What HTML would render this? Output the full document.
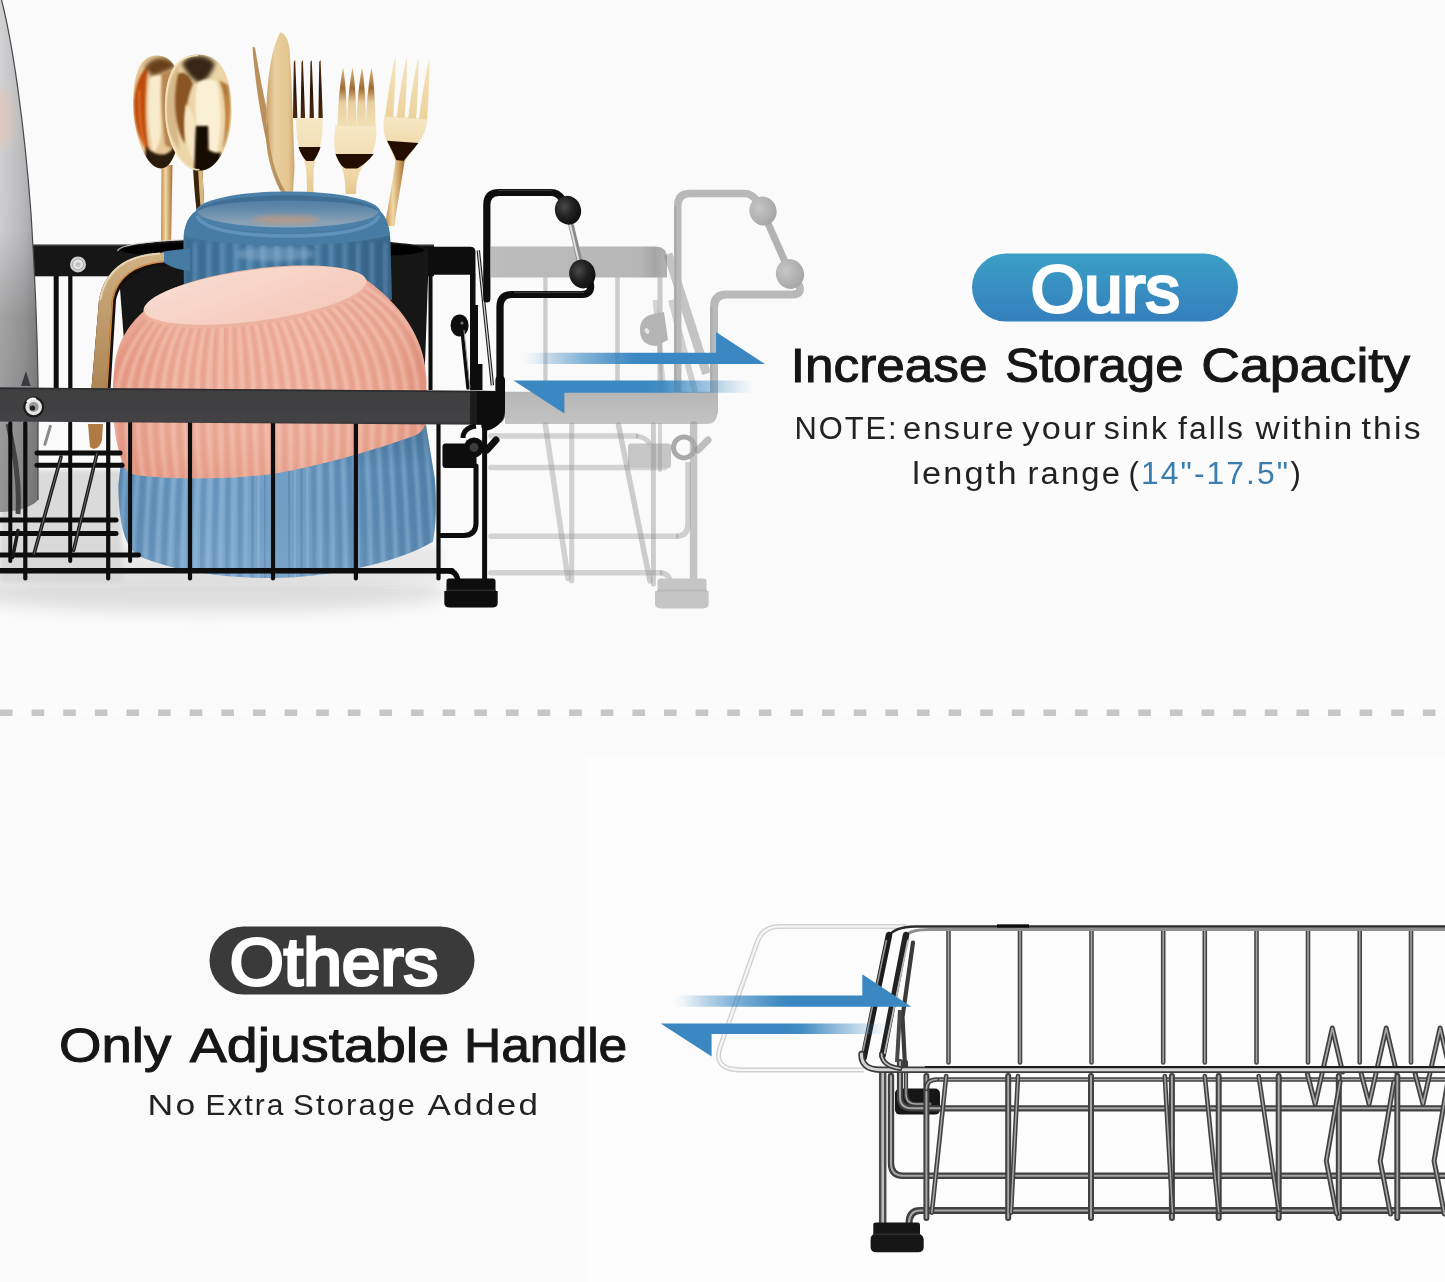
<!DOCTYPE html>
<html><head><meta charset="utf-8"><title>Ours vs Others</title>
<style>
html,body{margin:0;padding:0;background:#fcfcfc;}
body{width:1445px;height:1282px;overflow:hidden;font-family:"Liberation Sans",sans-serif;}
svg{display:block;}
text{font-family:"Liberation Sans",sans-serif;}
</style></head><body>
<svg width="1445" height="1282" viewBox="0 0 1445 1282">
<!-- defs -->
<defs>
<linearGradient id="pillBlue" x1="0" y1="0" x2="0" y2="1"><stop offset="0" stop-color="#3b9fc5"/><stop offset="1" stop-color="#347fbd"/></linearGradient>
<linearGradient id="arrR" x1="0" y1="0" x2="1" y2="0"><stop offset="0" stop-color="#3a87c1" stop-opacity="0"/><stop offset="0.05" stop-color="#3a87c1" stop-opacity="0.08"/><stop offset="0.12" stop-color="#3a87c1" stop-opacity="0.3"/><stop offset="0.25" stop-color="#3a87c1" stop-opacity="0.62"/><stop offset="0.44" stop-color="#3a87c1" stop-opacity="0.96"/><stop offset="0.5" stop-color="#3a87c1" stop-opacity="1"/></linearGradient>
<linearGradient id="arrL" x1="1" y1="0" x2="0" y2="0"><stop offset="0" stop-color="#3a87c1" stop-opacity="0"/><stop offset="0.064" stop-color="#3a87c1" stop-opacity="0.12"/><stop offset="0.19" stop-color="#3a87c1" stop-opacity="0.45"/><stop offset="0.38" stop-color="#3a87c1" stop-opacity="0.95"/><stop offset="0.45" stop-color="#3a87c1" stop-opacity="1"/></linearGradient>
<filter id="b2" x="-20%" y="-20%" width="140%" height="140%"><feGaussianBlur stdDeviation="2"/></filter>
<filter id="b1" x="-20%" y="-20%" width="140%" height="140%"><feGaussianBlur stdDeviation="1"/></filter>
<filter id="b05" x="-10%" y="-10%" width="120%" height="120%"><feGaussianBlur stdDeviation="0.5"/></filter>
<filter id="b4" x="-30%" y="-30%" width="160%" height="160%"><feGaussianBlur stdDeviation="4"/></filter>
<filter id="b8" x="-30%" y="-60%" width="160%" height="220%"><feGaussianBlur stdDeviation="8"/></filter>
<filter id="softAll" x="0" y="0" width="1445" height="1282" filterUnits="userSpaceOnUse"><feGaussianBlur stdDeviation="0.35"/></filter>
</defs>

<!-- bg -->
<rect x="0" y="0" width="1445" height="1282" fill="#fbfbfb"/>
<rect x="0" y="0" width="904" height="706" fill="#fafafa"/>
<rect x="0" y="716" width="1445" height="566" fill="#fafafa"/>
<rect x="587" y="757" width="858" height="525" fill="#fcfcfc"/>
<line x1="0" y1="712.7" x2="1445" y2="712.7" stroke="#c6c6c6" stroke-width="6.4" stroke-dasharray="12.6 19.02"/>

<!-- ghost -->
<g filter="url(#softAll)">
<defs><linearGradient id="gRail" x1="0" y1="0" x2="1" y2="0"><stop offset="0" stop-color="#bcbcbc"/><stop offset="0.85" stop-color="#b6b6b6"/><stop offset="0.93" stop-color="#a6a6a6"/><stop offset="1" stop-color="#b2b2b2"/></linearGradient><linearGradient id="gBar" x1="0" y1="0" x2="0" y2="1"><stop offset="0" stop-color="#b6b6b6"/><stop offset="1" stop-color="#c3c3c3"/></linearGradient><radialGradient id="gBall" cx="0.4" cy="0.35" r="0.7"><stop offset="0" stop-color="#c6c6c6"/><stop offset="1" stop-color="#a4a4a4"/></radialGradient></defs>
<g>
<line x1="545.4" y1="277" x2="545.4" y2="392" stroke="#8e8e8e" stroke-width="4.2" stroke-linecap="round" opacity="0.42"/>
<line x1="617.5" y1="277" x2="617.5" y2="392" stroke="#8e8e8e" stroke-width="4.6" stroke-linecap="round" opacity="0.42"/>
<line x1="660" y1="277" x2="660" y2="392" stroke="#8e8e8e" stroke-width="5" stroke-linecap="round" opacity="0.45"/>
<path d="M491,246.400 H655 Q667,246.400 667,258 V277.600 H491 Z" fill="url(#gRail)"/>
<line x1="668" y1="254" x2="706.6" y2="373.6" stroke="#8e8e8e" stroke-width="9" stroke-linecap="butt" opacity="0.5"/>
<line x1="671" y1="300" x2="695" y2="392" stroke="#8e8e8e" stroke-width="6" stroke-linecap="butt" opacity="0.4"/>
<line x1="655" y1="300" x2="664" y2="392" stroke="#8e8e8e" stroke-width="5" stroke-linecap="butt" opacity="0.35"/>
<path d="M640,330 Q640,316 654,314 L664,312 L668,340 L656,346 Q640,345 640,330 Z" fill="#b4b4b4"/>
<ellipse cx="647" cy="331" rx="2" ry="3" fill="#e8e8e8" transform="rotate(-30 647 331)"/>
<path d="M677.700,392 L677.700,206 Q677.700,193.400 690,193.400 L744,193.400 Q752,193.400 757,201" fill="none" stroke="#b9b9b9" stroke-width="7.500" stroke-linecap="round"/>
<path d="M675.500,392 L675.500,206" fill="none" stroke="#a9a9a9" stroke-width="2"/>
<line x1="763" y1="212" x2="790" y2="273" stroke="#b2b2b2" stroke-width="7" stroke-linecap="butt" opacity="1"/>
<path d="M798,283 Q804,294.500 792,294.500 L727,294.500 Q714,294.500 714,307 L714,412" fill="none" stroke="#b9b9b9" stroke-width="8" stroke-linecap="round"/>
<path d="M711.500,307 L711.500,392" fill="none" stroke="#ababab" stroke-width="2"/>
<ellipse cx="763" cy="211" rx="13.500" ry="14.500" fill="url(#gBall)" transform="rotate(-20 763 211)"/>
<ellipse cx="790" cy="274" rx="14" ry="15" fill="url(#gBall)" transform="rotate(-20 790 274)"/>
<path d="M505,391.800 H717 V414 Q717,424 706,424 H505 Z" fill="url(#gBar)"/>
<line x1="491" y1="436" x2="636" y2="436" stroke="#8e8e8e" stroke-width="5.5" stroke-linecap="round" opacity="0.36"/>
<line x1="491" y1="467.5" x2="665" y2="467.5" stroke="#8e8e8e" stroke-width="5.5" stroke-linecap="round" opacity="0.36"/>
<line x1="491" y1="536.3" x2="676" y2="536.3" stroke="#8e8e8e" stroke-width="5.5" stroke-linecap="round" opacity="0.36"/>
<line x1="491" y1="572.8" x2="660" y2="572.8" stroke="#8e8e8e" stroke-width="5.5" stroke-linecap="round" opacity="0.36"/>
<path d="M676,536.300 Q688,536.300 688,524 L688,462" fill="none" stroke="#8e8e8e" stroke-width="5.500" opacity="0.4"/>
<path d="M660,572.800 Q668,573 670,580" fill="none" stroke="#8e8e8e" stroke-width="5.500" opacity="0.4"/>
<rect x="628" y="443.600" width="43" height="24.500" rx="3" fill="#c6c6c6"/>
<path d="M636,436 Q646,437 650,444" fill="none" stroke="#8e8e8e" stroke-width="5" opacity="0.4"/>
<line x1="571.7" y1="425" x2="571.7" y2="581" stroke="#8e8e8e" stroke-width="5" stroke-linecap="round" opacity="0.38"/>
<line x1="545.4" y1="425" x2="568" y2="578.5" stroke="#8e8e8e" stroke-width="5.5" stroke-linecap="round" opacity="0.38"/>
<line x1="618.5" y1="425" x2="650" y2="581" stroke="#8e8e8e" stroke-width="5.5" stroke-linecap="round" opacity="0.42"/>
<line x1="653.4" y1="425" x2="653.4" y2="584" stroke="#8e8e8e" stroke-width="5" stroke-linecap="round" opacity="0.42"/>
<line x1="660" y1="425" x2="660" y2="470" stroke="#8e8e8e" stroke-width="4" stroke-linecap="round" opacity="0.35"/>
<line x1="693.6" y1="425" x2="693.6" y2="580" stroke="#8e8e8e" stroke-width="7.5" stroke-linecap="round" opacity="0.5"/>
<circle cx="684" cy="447.400" r="10.500" fill="none" stroke="#a9a9a9" stroke-width="5"/>
<line x1="698" y1="450" x2="708" y2="440" stroke="#8e8e8e" stroke-width="7" stroke-linecap="round" opacity="0.55"/>
<path d="M660,578.500 H704 Q706.500,578.500 706.500,581 V591 H708.600 V604 Q708.600,608.400 703,608.400 H661 Q655,608.400 655,604 V591 H657.500 V581 Q657.500,578.500 660,578.500 Z" fill="#c5c5c5"/>
<rect x="657.500" y="589.500" width="49" height="2" fill="#b8b8b8"/>
</g>
</g>
<!-- blackrack -->
<g filter="url(#softAll)">
<defs>
<linearGradient id="plateG" x1="0" y1="0" x2="1" y2="0"><stop offset="0" stop-color="#d2d2d4"/><stop offset="0.6" stop-color="#bcbcbe"/><stop offset="1" stop-color="#a0a0a2"/></linearGradient>
<linearGradient id="plateG2" x1="0" y1="0" x2="0" y2="1"><stop offset="0" stop-color="#000" stop-opacity="0"/><stop offset="0.45" stop-color="#000" stop-opacity="0.02"/><stop offset="0.62" stop-color="#000" stop-opacity="0.22"/><stop offset="1" stop-color="#000" stop-opacity="0.30"/></linearGradient>
<linearGradient id="gold1" x1="0" y1="0" x2="1" y2="0"><stop offset="0" stop-color="#b5773a"/><stop offset="0.25" stop-color="#f3dcae"/><stop offset="0.5" stop-color="#e9c88f"/><stop offset="0.8" stop-color="#f2d9a8"/><stop offset="1" stop-color="#b98545"/></linearGradient>
<linearGradient id="goldH" x1="0" y1="0" x2="1" y2="0"><stop offset="0" stop-color="#e0c08a"/><stop offset="0.4" stop-color="#cfa468"/><stop offset="0.55" stop-color="#8a5a28"/><stop offset="0.75" stop-color="#6a4018"/><stop offset="0.9" stop-color="#c89858"/><stop offset="1" stop-color="#8a6030"/></linearGradient>
<linearGradient id="goldHv" x1="0" y1="250" x2="0" y2="390" gradientUnits="userSpaceOnUse"><stop offset="0" stop-color="#d2b488"/><stop offset="0.35" stop-color="#c4a070"/><stop offset="1" stop-color="#ae8656"/></linearGradient>
<linearGradient id="goldStem" x1="0" y1="0" x2="1" y2="0"><stop offset="0" stop-color="#c08a48"/><stop offset="0.4" stop-color="#f1d8a6"/><stop offset="1" stop-color="#a8702f"/></linearGradient>
<linearGradient id="forkBody" x1="0" y1="0" x2="0" y2="1"><stop offset="0" stop-color="#f6e8c6"/><stop offset="0.7" stop-color="#efd8a8"/><stop offset="1" stop-color="#e6c68e"/></linearGradient>
<linearGradient id="tineDark" x1="0" y1="0" x2="0" y2="1"><stop offset="0" stop-color="#5a3410"/><stop offset="0.5" stop-color="#2a1606"/><stop offset="1" stop-color="#4a2a0c"/></linearGradient>
<linearGradient id="tineLight" x1="0" y1="0" x2="0" y2="1"><stop offset="0" stop-color="#d9b98a"/><stop offset="0.35" stop-color="#a06a30"/><stop offset="0.6" stop-color="#e8cf9e"/><stop offset="1" stop-color="#f2dfb4"/></linearGradient>
<linearGradient id="tineLight3" x1="0" y1="0" x2="0" y2="1"><stop offset="0" stop-color="#f3e4c0"/><stop offset="1" stop-color="#ecd29c"/></linearGradient>
<linearGradient id="knifeG" x1="0" y1="0" x2="1" y2="0"><stop offset="0" stop-color="#c9a067"/><stop offset="0.3" stop-color="#e9cf9f"/><stop offset="0.8" stop-color="#e4c48e"/><stop offset="1" stop-color="#caa46c"/></linearGradient>
<radialGradient id="spoon1" cx="0.5" cy="0.45" r="0.62"><stop offset="0" stop-color="#f6e4ba"/><stop offset="0.6" stop-color="#deb070"/><stop offset="1" stop-color="#b06a2a"/></radialGradient>
<radialGradient id="spoon2" cx="0.5" cy="0.45" r="0.65"><stop offset="0" stop-color="#f8e8c2"/><stop offset="0.6" stop-color="#e8c88e"/><stop offset="0.92" stop-color="#c89858"/><stop offset="1" stop-color="#a87838"/></radialGradient>
<linearGradient id="mugG" x1="0" y1="0" x2="1" y2="0"><stop offset="0" stop-color="#41729a"/><stop offset="0.3" stop-color="#4e83ac"/><stop offset="0.7" stop-color="#46799f"/><stop offset="1" stop-color="#39668a"/></linearGradient>
<linearGradient id="mugIn" x1="0" y1="0" x2="0" y2="1"><stop offset="0" stop-color="#4a7aa2"/><stop offset="0.4" stop-color="#5f88aa"/><stop offset="0.8" stop-color="#869fb3"/><stop offset="1" stop-color="#8fa6b8"/></linearGradient>
<linearGradient id="pinkG" x1="0" y1="0" x2="1" y2="0"><stop offset="0" stop-color="#e79d89"/><stop offset="0.2" stop-color="#eeae9b"/><stop offset="0.6" stop-color="#f0b2a0"/><stop offset="0.9" stop-color="#eaa692"/><stop offset="1" stop-color="#e09580"/></linearGradient>
<linearGradient id="pinkV" x1="0" y1="0" x2="0" y2="1"><stop offset="0" stop-color="#fff" stop-opacity="0.10"/><stop offset="0.5" stop-color="#fff" stop-opacity="0"/><stop offset="1" stop-color="#c86a50" stop-opacity="0.18"/></linearGradient>
<linearGradient id="footRing" x1="0" y1="0" x2="1" y2="1"><stop offset="0" stop-color="#f9ddd2"/><stop offset="1" stop-color="#f4c8b8"/></linearGradient>
<linearGradient id="blueG" x1="0" y1="0" x2="1" y2="0"><stop offset="0" stop-color="#5d8db5"/><stop offset="0.25" stop-color="#78a6cb"/><stop offset="0.6" stop-color="#6f9dc3"/><stop offset="1" stop-color="#5585ae"/></linearGradient>
<linearGradient id="blueV" x1="0" y1="0" x2="0" y2="1"><stop offset="0" stop-color="#2a4f70" stop-opacity="0.35"/><stop offset="0.3" stop-color="#2a4f70" stop-opacity="0"/><stop offset="1" stop-color="#fff" stop-opacity="0.08"/></linearGradient>
<linearGradient id="barG" x1="0" y1="0" x2="0" y2="1"><stop offset="0" stop-color="#3e3e40"/><stop offset="0.9" stop-color="#434345"/><stop offset="1" stop-color="#303032"/></linearGradient>
<radialGradient id="ballG" cx="0.4" cy="0.35" r="0.7"><stop offset="0" stop-color="#4a4a4a"/><stop offset="0.5" stop-color="#222"/><stop offset="1" stop-color="#0c0c0c"/></radialGradient>
<radialGradient id="shadowG" cx="0.5" cy="0.5" r="0.5"><stop offset="0" stop-color="#000" stop-opacity="0.22"/><stop offset="1" stop-color="#000" stop-opacity="0"/></radialGradient>
<clipPath id="sp1c"><path d="M157,55.500 C138,55.500 133,78 133.200,106 C133.500,135 146,168.500 161,168.500 C175,168.500 182,135 182,106 C182,78 176,55.500 157,55.500 Z"/></clipPath>
<clipPath id="sp2c"><path d="M198,54.500 C172,54.500 164.500,80 164.900,111 C165.300,143 181,170.800 199.500,170.800 C218,170.800 231.800,143 231.600,111 C231.400,80 224,54.500 198,54.500 Z"/></clipPath>
<clipPath id="pinkClip"><path id="pinkPath" d="M143,312 C128,325 116,345 114.500,368 C111,398 112.500,436 123,464 C125.500,471 129,474.500 140,475.500 C180,480 235,479 271.600,474 C310,468 370,452 416,435 C424,431 426.500,425 426.500,415 L426.500,380 C425,345 410,312 366.500,280 Z"/></clipPath>
<clipPath id="blueClip"><path d="M121,462 L118.400,485 C118.500,520 124,545 137,555 C170,571 225,578 271.600,578 C330,578 400,562 433,541.600 C437,520 436,495 434.800,479 L426,425 Z"/></clipPath>
<clipPath id="mugClip"><path d="M196,211 C186,218 183.400,230 183.400,244 L184,300 L392,300 L390.500,244 C390,228 387,218 380,211 C360,236 220,238 196,211 Z"/></clipPath>
</defs>
<ellipse cx="205" cy="592" rx="245" ry="20" fill="#000" opacity="0.11" filter="url(#b8)"/>
<rect x="0" y="470" width="122" height="112" fill="#cfcfcf" opacity="0.75" filter="url(#b2)"/>
<rect x="0" y="545" width="440" height="36" fill="#d6d6d6" opacity="0.5" filter="url(#b4)"/>
<rect x="33" y="244.700" width="401" height="31.600" fill="#151515"/>
<rect x="33" y="244.700" width="401" height="1.500" fill="#3a3a3a"/>
<path d="M425,246.800 H470 Q475.500,246.800 475.500,252 V274.800 H425 Z" fill="#0e0e0e"/>
<rect x="53.700" y="276" width="5" height="112" fill="#0c0c0c"/>
<rect x="68.200" y="276" width="4.200" height="112" fill="#0c0c0c"/>
<circle cx="78" cy="264.400" r="8" fill="#cfcfcf"/><circle cx="78" cy="264.400" r="5.500" fill="#e4e4e4" stroke="#a8a8a8" stroke-width="1"/><circle cx="78" cy="264.400" r="2.500" fill="#c4c4c4"/>
<rect x="428.500" y="274" width="4" height="116" fill="#0c0c0c"/>
<rect x="470" y="274" width="5.500" height="116" fill="#0c0c0c"/>
<path d="M161.500,165 L161,246 L171,246 L172.500,165 Z" fill="url(#goldStem)"/>
<path d="M157,55.500 C138,55.500 133,78 133.200,106 C133.500,135 146,168.500 161,168.500 C175,168.500 182,135 182,106 C182,78 176,55.500 157,55.500 Z" fill="#e6c898"/>
<g clip-path="url(#sp1c)">
<path d="M134,106 C134,88 140,72 148,66 C145,90 144,125 149,152 C140,142 134,125 134,106 Z" fill="#c04c0e" filter="url(#b1)"/>
<path d="M139,90 C139,110 140,130 145,146" fill="none" stroke="#e87a2c" stroke-width="2.500" opacity="0.7" filter="url(#b1)"/>
<path d="M145,68 C150,56 168,54 176,66 C170,70 160,74 152,76 Z" fill="#5a3010" opacity="0.9" filter="url(#b2)"/>
<path d="M150,78 C147,100 148,130 153,152 C158,150 161,140 161,128 C160,110 160,92 161,76 C157,75 153,76 150,78 Z" fill="#f8eacc" filter="url(#b1)"/>
<path d="M162,74 C161,95 162,120 165,145 L174,150 C180,125 180,95 174,70 Z" fill="#a8703a" opacity="0.75" filter="url(#b1)"/>
<path d="M146,146 C150,152 158,156 166,154 C170,152 174,148 176,144 L178,170 L144,170 Z" fill="#1e0c02" opacity="0.92" filter="url(#b1)"/>
</g>
<path d="M193,166 C194,190 197,215 199,232 L206,232 C205,215 203,190 202.500,166 Z" fill="#3a2008"/>
<path d="M198,166 C199,190 201,215 203,232 L206,232 C205,215 203,190 202.500,166 Z" fill="#d8b880"/>
<path d="M198,54.500 C172,54.500 164.500,80 164.900,111 C165.300,143 181,170.800 199.500,170.800 C218,170.800 231.800,143 231.600,111 C231.400,80 224,54.500 198,54.500 Z" fill="#ecd6a8"/>
<g clip-path="url(#sp2c)">
<path d="M166,111 C166,90 172,72 180,64 C176,85 175,120 180,150 C171,140 166,128 166,111 Z" fill="#d8b888" filter="url(#b1)"/>
<path d="M178,74 C173,98 174,126 185,144 C184,122 186,100 193,84 C190,76 184,70 178,74 Z" fill="#8a5424" filter="url(#b1)"/>
<path d="M182,64 C188,53 208,53 215,64 C212,73 206,81 200,83 C193,81 187,73 182,64 Z" fill="#382818" filter="url(#b2)"/>
<path d="M197,83 C195,100 195,115 197,126 L209,126 L209,150 L217,152 C221,135 222,105 217,82 C211,78 202,79 197,83 Z" fill="#faf0d6" filter="url(#b1)"/>
<path d="M186,104 C182,125 186,150 195,164 L196,128 C194,118 192,110 186,104 Z" fill="#f6e6c4" filter="url(#b1)"/>
<path d="M196,126 L208,126 L208.500,150 C214,153 218,154 221,152 L218,172 L194,172 C195,160 195,140 196,126 Z" fill="#160a02" filter="url(#b1)"/>
<path d="M219,80 C226,95 228,125 222,150 C230,135 232,105 228,85 Z" fill="#b07a3c" filter="url(#b1)"/>
<path d="M226,96 C229,108 229,120 227,130" fill="none" stroke="#d88a3a" stroke-width="2.500" opacity="0.8" filter="url(#b1)"/>
</g>
<path d="M198,55.500 C172.500,55.500 165.500,80 165.900,111 C166.300,142 181.500,169.800 199.500,169.800" fill="none" stroke="#f4e4c0" stroke-width="1.600" opacity="0.9"/>
<path d="M252.500,47 L255,47.500 C262,90 272,140 288,190 L280,190 C266,150 256,95 252.500,47 Z" fill="#b98f5c"/>
<path d="M280,32.500 C286,33 289.500,42 290,55 C292,90 293.500,130 294.500,168 L293,192 L284,192 C272,170 266,150 266,132 C266,100 268,55 280,32.500 Z" fill="url(#knifeG)"/>
<path d="M268,120 C268,150 275,175 286,192 L281,192 C270,172 265.500,150 266,130 Z" fill="#b08850" opacity="0.8"/>
<path d="M296,118 L322.500,118 C323,130 322,146 316,158 C314,162 313.500,170 313.500,192 L307,192 C307,172 306,164 303,158 C297,146 296,130 296,118 Z" fill="url(#forkBody)"/>
<path d="M298.500,147 L320.500,147 C319,152 316,158 313.500,161 L306.500,161 C303,158 300,152 298.500,147 Z" fill="#241004"/>
<path d="M293.0,118 L293.8,62 L295.2,60 L297.4,118 Z" fill="url(#tineDark)"/>
<path d="M300.7,118 L301.5,62 L302.9,60 L305.1,118 Z" fill="url(#tineDark)"/>
<path d="M309.6,118 L310.4,62 L311.8,60 L314.0,118 Z" fill="url(#tineDark)"/>
<path d="M318.4,118 L319.2,62 L320.6,60 L322.8,118 Z" fill="url(#tineDark)"/>
<path d="M335.500,125 L376,125 C377.500,138 375,150 368,160 C360,169 356,176 356,194 L345.500,194 C345.500,176 343,169 338,160 C333,150 334,138 335.500,125 Z" fill="url(#forkBody)"/>
<path d="M335.500,154 L373.500,154 C369,160.500 362,166 357,168.500 L345.500,168.500 C341,166 338,161 335.500,154 Z" fill="#241004"/>
<path d="M337.5,126 C338.0,100 340.5,80 343.0,67.500 C345.5,80 346.5,100 347.0,126 Z" fill="url(#tineLight)"/>
<path d="M347.0,126 C347.5,100 350.0,80 352.5,67.500 C355.0,80 356.0,100 356.5,126 Z" fill="url(#tineLight)"/>
<path d="M356.5,126 C357.0,100 359.5,80 362.0,67.500 C364.5,80 365.5,100 366.0,126 Z" fill="url(#tineLight)"/>
<path d="M366.0,126 C366.5,100 369.0,80 371.5,67.500 C374.0,80 375.0,100 375.5,126 Z" fill="url(#tineLight)"/>
<g transform="rotate(4 405 120)">
<path d="M384,117 L427,117 C427.500,126 425,134 420,142 C413,152 409,158 407,164 L399,164 C397,158 393,150 388,142 C384,134 383.500,126 384,117 Z" fill="url(#forkBody)"/>
<path d="M388.500,142 L420,142 C414,151 409,157 406.500,161.500 L399.500,161.500 C397,156 393,150 388.500,142 Z" fill="#241004"/>
<path d="M385.0,118 C386.0,95 388.0,75 391.0,57 C392.5,75 393.0,95 393.0,118 Z" fill="url(#tineLight3)"/>
<path d="M396.5,118 C397.5,95 399.5,75 402.5,57 C404.0,75 404.5,95 404.5,118 Z" fill="url(#tineLight3)"/>
<path d="M408.0,118 C409.0,95 411.0,75 414.0,57 C415.5,75 416.0,95 416.0,118 Z" fill="url(#tineLight3)"/>
<path d="M419.0,118 C420.0,95 422.0,75 425.0,57 C426.5,75 427.0,95 427.0,118 Z" fill="url(#tineLight3)"/>
</g>
<path d="M395.500,160 L404.500,161 C402,180 397,205 394.500,226 L385,226 C388,205 393,180 395.500,160 Z" fill="url(#goldStem)"/>
<path d="M117,250 C117,243 190,238 273,238 C356,238 429,243 429,250 L424,392 L128,392 Z" fill="#121212"/>
<path d="M117.500,251 C119,245 150,240.500 190,239.500" fill="none" stroke="#d8d8d8" stroke-width="1.200" opacity="0.85"/>
<ellipse cx="273" cy="250" rx="152" ry="9.500" fill="#050505"/>
<g>
<path d="M196,211 C186,218 183.400,230 183.400,244 L184,300 L392,300 L390.500,244 C390,228 387,218 380,211 Z" fill="url(#mugG)"/>
<g clip-path="url(#mugClip)">
<rect x="186.0" y="240" width="5.500" height="70" fill="#2a5374" opacity="0.30" filter="url(#b1)"/>
<rect x="193.0" y="243" width="4" height="66" fill="#7aa6ca" opacity="0.30" filter="url(#b1)"/>
<rect x="199.6" y="240" width="5.500" height="70" fill="#2a5374" opacity="0.30" filter="url(#b1)"/>
<rect x="206.6" y="243" width="4" height="66" fill="#7aa6ca" opacity="0.30" filter="url(#b1)"/>
<rect x="213.2" y="240" width="5.500" height="70" fill="#2a5374" opacity="0.30" filter="url(#b1)"/>
<rect x="220.2" y="243" width="4" height="66" fill="#7aa6ca" opacity="0.30" filter="url(#b1)"/>
<rect x="226.8" y="240" width="5.500" height="70" fill="#2a5374" opacity="0.30" filter="url(#b1)"/>
<rect x="233.8" y="243" width="4" height="66" fill="#7aa6ca" opacity="0.30" filter="url(#b1)"/>
<rect x="240.4" y="240" width="5.500" height="70" fill="#2a5374" opacity="0.30" filter="url(#b1)"/>
<rect x="247.4" y="243" width="4" height="66" fill="#7aa6ca" opacity="0.30" filter="url(#b1)"/>
<rect x="254.0" y="240" width="5.500" height="70" fill="#2a5374" opacity="0.30" filter="url(#b1)"/>
<rect x="261.0" y="243" width="4" height="66" fill="#7aa6ca" opacity="0.30" filter="url(#b1)"/>
<rect x="267.6" y="240" width="5.500" height="70" fill="#2a5374" opacity="0.30" filter="url(#b1)"/>
<rect x="274.6" y="243" width="4" height="66" fill="#7aa6ca" opacity="0.30" filter="url(#b1)"/>
<rect x="281.2" y="240" width="5.500" height="70" fill="#2a5374" opacity="0.30" filter="url(#b1)"/>
<rect x="288.2" y="243" width="4" height="66" fill="#7aa6ca" opacity="0.30" filter="url(#b1)"/>
<rect x="294.8" y="240" width="5.500" height="70" fill="#2a5374" opacity="0.30" filter="url(#b1)"/>
<rect x="301.8" y="243" width="4" height="66" fill="#7aa6ca" opacity="0.30" filter="url(#b1)"/>
<rect x="308.4" y="240" width="5.500" height="70" fill="#2a5374" opacity="0.30" filter="url(#b1)"/>
<rect x="315.4" y="243" width="4" height="66" fill="#7aa6ca" opacity="0.30" filter="url(#b1)"/>
<rect x="322.0" y="240" width="5.500" height="70" fill="#2a5374" opacity="0.30" filter="url(#b1)"/>
<rect x="329.0" y="243" width="4" height="66" fill="#7aa6ca" opacity="0.30" filter="url(#b1)"/>
<rect x="335.6" y="240" width="5.500" height="70" fill="#2a5374" opacity="0.30" filter="url(#b1)"/>
<rect x="342.6" y="243" width="4" height="66" fill="#7aa6ca" opacity="0.30" filter="url(#b1)"/>
<rect x="349.2" y="240" width="5.500" height="70" fill="#2a5374" opacity="0.30" filter="url(#b1)"/>
<rect x="356.2" y="243" width="4" height="66" fill="#7aa6ca" opacity="0.30" filter="url(#b1)"/>
<rect x="362.8" y="240" width="5.500" height="70" fill="#2a5374" opacity="0.30" filter="url(#b1)"/>
<rect x="369.8" y="243" width="4" height="66" fill="#7aa6ca" opacity="0.30" filter="url(#b1)"/>
<rect x="376.4" y="240" width="5.500" height="70" fill="#2a5374" opacity="0.30" filter="url(#b1)"/>
<rect x="383.4" y="243" width="4" height="66" fill="#7aa6ca" opacity="0.30" filter="url(#b1)"/>
<rect x="390.0" y="240" width="5.500" height="70" fill="#2a5374" opacity="0.30" filter="url(#b1)"/>
<rect x="397.0" y="243" width="4" height="66" fill="#7aa6ca" opacity="0.30" filter="url(#b1)"/>
<ellipse cx="275" cy="254" rx="40" ry="7" fill="#a9c6de" opacity="0.35" filter="url(#b2)"/>
<path d="M183,205 L392,205 L392,235 C340,248 240,250 183,236 Z" fill="#477ca4" opacity="0.96"/>
</g>
<ellipse cx="288" cy="212" rx="92.400" ry="20.600" fill="#4b80a9"/>
<path d="M197,216 C203,230 242,236 288,236 C334,236 373,230 379,216" fill="none" stroke="#6a9dc5" stroke-width="3.500" opacity="0.7" filter="url(#b05)"/>
<ellipse cx="288" cy="211.500" rx="90.200" ry="16" fill="url(#mugIn)"/>
<path d="M197.800,211.500 C197.800,202.700 238,195.500 288,195.500 C338,195.500 378.200,202.700 378.200,211.500 C372,205 336,200.500 288,200.500 C240,200.500 204,205 197.800,211.500 Z" fill="#3c6b90" opacity="0.85"/>
<ellipse cx="286" cy="219.500" rx="34" ry="4.500" fill="#c99a78" opacity="0.6" filter="url(#b2)"/>
<path d="M162,252 C170,250 180,250 190,248 L190,271 C180,270 172,268 163,262 Z" fill="#457aa2"/>
</g>
<path d="M164,252.500 C128,254 105,268 99,300 L91.500,388 L110.600,388 L116,300 C120,281 136,268 164,265 Z" fill="#141008"/>
<path d="M164,252.500 C128,254 105,268 99,300 L91.500,388 L106.500,388 L112,300 C116,278 134,264.500 164,262 Z" fill="url(#goldHv)"/>
<path d="M164,261.500 C134,264 116.500,278 112.500,300 L107,388" fill="none" stroke="#d48a42" stroke-width="1.600" opacity="0.95"/>
<path d="M160,253.500 C128,255 106,269 100,300" fill="none" stroke="#f2e4c8" stroke-width="2" opacity="0.75" filter="url(#b05)"/>
<path d="M0,0 L1.500,0 C12,40 24,120 31,213 C34,260 37,320 38,380 L38,500 C30,509 12,512 0,512 Z" fill="url(#plateG)"/>
<path d="M0,0 L1.500,0 C12,40 24,120 31,213 C34,260 37,320 38,380 L38,500 C30,509 12,512 0,512 Z" fill="url(#plateG2)"/>
<ellipse cx="0" cy="118" rx="14" ry="30" fill="#e8c4b4" opacity="0.55" filter="url(#b4)"/>
<path d="M1.500,0 C12,40 24,120 31,213 C34,260 37,320 38,380 L38,500" fill="none" stroke="#4a4a4c" stroke-width="1.200"/>
<g clip-path="url(#blueClip)">
<rect x="110" y="420" width="335" height="165" fill="url(#blueG)"/>
<path d="M124.0,425 Q116.0,500 112.8,584" fill="none" stroke="#3b6a95" stroke-width="4.800" opacity="0.28" filter="url(#b1)"/>
<path d="M130.0,425 Q122.0,500 118.8,584" fill="none" stroke="#b0d0ea" stroke-width="3.800" opacity="0.28" filter="url(#b1)"/>
<path d="M135.8,425 Q128.4,500 125.4,584" fill="none" stroke="#3b6a95" stroke-width="4.800" opacity="0.28" filter="url(#b1)"/>
<path d="M141.8,425 Q134.4,500 131.4,584" fill="none" stroke="#b0d0ea" stroke-width="3.800" opacity="0.28" filter="url(#b1)"/>
<path d="M147.5,425 Q140.8,500 138.1,584" fill="none" stroke="#3b6a95" stroke-width="4.800" opacity="0.28" filter="url(#b1)"/>
<path d="M153.5,425 Q146.8,500 144.1,584" fill="none" stroke="#b0d0ea" stroke-width="3.800" opacity="0.28" filter="url(#b1)"/>
<path d="M159.3,425 Q153.2,500 150.7,584" fill="none" stroke="#3b6a95" stroke-width="4.800" opacity="0.28" filter="url(#b1)"/>
<path d="M165.3,425 Q159.2,500 156.7,584" fill="none" stroke="#b0d0ea" stroke-width="3.800" opacity="0.28" filter="url(#b1)"/>
<path d="M171.1,425 Q165.5,500 163.3,584" fill="none" stroke="#3b6a95" stroke-width="4.800" opacity="0.28" filter="url(#b1)"/>
<path d="M177.1,425 Q171.5,500 169.3,584" fill="none" stroke="#b0d0ea" stroke-width="3.800" opacity="0.28" filter="url(#b1)"/>
<path d="M182.8,425 Q177.9,500 176.0,584" fill="none" stroke="#3b6a95" stroke-width="4.800" opacity="0.28" filter="url(#b1)"/>
<path d="M188.8,425 Q183.9,500 182.0,584" fill="none" stroke="#b0d0ea" stroke-width="3.800" opacity="0.28" filter="url(#b1)"/>
<path d="M194.6,425 Q190.3,500 188.6,584" fill="none" stroke="#3b6a95" stroke-width="4.800" opacity="0.28" filter="url(#b1)"/>
<path d="M200.6,425 Q196.3,500 194.6,584" fill="none" stroke="#b0d0ea" stroke-width="3.800" opacity="0.28" filter="url(#b1)"/>
<path d="M206.4,425 Q202.7,500 201.2,584" fill="none" stroke="#3b6a95" stroke-width="4.800" opacity="0.28" filter="url(#b1)"/>
<path d="M212.4,425 Q208.7,500 207.2,584" fill="none" stroke="#b0d0ea" stroke-width="3.800" opacity="0.28" filter="url(#b1)"/>
<path d="M218.2,425 Q215.1,500 213.8,584" fill="none" stroke="#3b6a95" stroke-width="4.800" opacity="0.28" filter="url(#b1)"/>
<path d="M224.2,425 Q221.1,500 219.8,584" fill="none" stroke="#b0d0ea" stroke-width="3.800" opacity="0.28" filter="url(#b1)"/>
<path d="M229.9,425 Q227.5,500 226.5,584" fill="none" stroke="#3b6a95" stroke-width="4.800" opacity="0.28" filter="url(#b1)"/>
<path d="M235.9,425 Q233.5,500 232.5,584" fill="none" stroke="#b0d0ea" stroke-width="3.800" opacity="0.28" filter="url(#b1)"/>
<path d="M241.7,425 Q239.8,500 239.1,584" fill="none" stroke="#3b6a95" stroke-width="4.800" opacity="0.28" filter="url(#b1)"/>
<path d="M247.7,425 Q245.8,500 245.1,584" fill="none" stroke="#b0d0ea" stroke-width="3.800" opacity="0.28" filter="url(#b1)"/>
<path d="M253.5,425 Q252.2,500 251.7,584" fill="none" stroke="#3b6a95" stroke-width="4.800" opacity="0.28" filter="url(#b1)"/>
<path d="M259.5,425 Q258.2,500 257.7,584" fill="none" stroke="#b0d0ea" stroke-width="3.800" opacity="0.28" filter="url(#b1)"/>
<path d="M265.2,425 Q264.6,500 264.4,584" fill="none" stroke="#3b6a95" stroke-width="4.800" opacity="0.28" filter="url(#b1)"/>
<path d="M271.2,425 Q270.6,500 270.4,584" fill="none" stroke="#b0d0ea" stroke-width="3.800" opacity="0.28" filter="url(#b1)"/>
<path d="M277.0,425 Q277.0,500 277.0,584" fill="none" stroke="#3b6a95" stroke-width="4.800" opacity="0.28" filter="url(#b1)"/>
<path d="M283.0,425 Q283.0,500 283.0,584" fill="none" stroke="#b0d0ea" stroke-width="3.800" opacity="0.28" filter="url(#b1)"/>
<path d="M288.8,425 Q289.4,500 289.6,584" fill="none" stroke="#3b6a95" stroke-width="4.800" opacity="0.28" filter="url(#b1)"/>
<path d="M294.8,425 Q295.4,500 295.6,584" fill="none" stroke="#b0d0ea" stroke-width="3.800" opacity="0.28" filter="url(#b1)"/>
<path d="M300.5,425 Q301.8,500 302.3,584" fill="none" stroke="#3b6a95" stroke-width="4.800" opacity="0.28" filter="url(#b1)"/>
<path d="M306.5,425 Q307.8,500 308.3,584" fill="none" stroke="#b0d0ea" stroke-width="3.800" opacity="0.28" filter="url(#b1)"/>
<path d="M312.3,425 Q314.2,500 314.9,584" fill="none" stroke="#3b6a95" stroke-width="4.800" opacity="0.28" filter="url(#b1)"/>
<path d="M318.3,425 Q320.2,500 320.9,584" fill="none" stroke="#b0d0ea" stroke-width="3.800" opacity="0.28" filter="url(#b1)"/>
<path d="M324.1,425 Q326.5,500 327.5,584" fill="none" stroke="#3b6a95" stroke-width="4.800" opacity="0.28" filter="url(#b1)"/>
<path d="M330.1,425 Q332.5,500 333.5,584" fill="none" stroke="#b0d0ea" stroke-width="3.800" opacity="0.28" filter="url(#b1)"/>
<path d="M335.8,425 Q338.9,500 340.2,584" fill="none" stroke="#3b6a95" stroke-width="4.800" opacity="0.28" filter="url(#b1)"/>
<path d="M341.8,425 Q344.9,500 346.2,584" fill="none" stroke="#b0d0ea" stroke-width="3.800" opacity="0.28" filter="url(#b1)"/>
<path d="M347.6,425 Q351.3,500 352.8,584" fill="none" stroke="#3b6a95" stroke-width="4.800" opacity="0.28" filter="url(#b1)"/>
<path d="M353.6,425 Q357.3,500 358.8,584" fill="none" stroke="#b0d0ea" stroke-width="3.800" opacity="0.28" filter="url(#b1)"/>
<path d="M359.4,425 Q363.7,500 365.4,584" fill="none" stroke="#3b6a95" stroke-width="4.800" opacity="0.28" filter="url(#b1)"/>
<path d="M365.4,425 Q369.7,500 371.4,584" fill="none" stroke="#b0d0ea" stroke-width="3.800" opacity="0.28" filter="url(#b1)"/>
<path d="M371.2,425 Q376.1,500 378.0,584" fill="none" stroke="#3b6a95" stroke-width="4.800" opacity="0.28" filter="url(#b1)"/>
<path d="M377.2,425 Q382.1,500 384.0,584" fill="none" stroke="#b0d0ea" stroke-width="3.800" opacity="0.28" filter="url(#b1)"/>
<path d="M382.9,425 Q388.5,500 390.7,584" fill="none" stroke="#3b6a95" stroke-width="4.800" opacity="0.28" filter="url(#b1)"/>
<path d="M388.9,425 Q394.5,500 396.7,584" fill="none" stroke="#b0d0ea" stroke-width="3.800" opacity="0.28" filter="url(#b1)"/>
<path d="M394.7,425 Q400.8,500 403.3,584" fill="none" stroke="#3b6a95" stroke-width="4.800" opacity="0.28" filter="url(#b1)"/>
<path d="M400.7,425 Q406.8,500 409.3,584" fill="none" stroke="#b0d0ea" stroke-width="3.800" opacity="0.28" filter="url(#b1)"/>
<path d="M406.5,425 Q413.2,500 415.9,584" fill="none" stroke="#3b6a95" stroke-width="4.800" opacity="0.28" filter="url(#b1)"/>
<path d="M412.5,425 Q419.2,500 421.9,584" fill="none" stroke="#b0d0ea" stroke-width="3.800" opacity="0.28" filter="url(#b1)"/>
<path d="M418.2,425 Q425.6,500 428.6,584" fill="none" stroke="#3b6a95" stroke-width="4.800" opacity="0.28" filter="url(#b1)"/>
<path d="M424.2,425 Q431.6,500 434.6,584" fill="none" stroke="#b0d0ea" stroke-width="3.800" opacity="0.28" filter="url(#b1)"/>
<path d="M430.0,425 Q438.0,500 441.2,584" fill="none" stroke="#3b6a95" stroke-width="4.800" opacity="0.28" filter="url(#b1)"/>
<path d="M436.0,425 Q444.0,500 447.2,584" fill="none" stroke="#b0d0ea" stroke-width="3.800" opacity="0.28" filter="url(#b1)"/>
<rect x="110" y="420" width="335" height="165" fill="url(#blueV)"/>
</g>
<use href="#pinkPath" fill="url(#pinkG)"/>
<g clip-path="url(#pinkClip)">
<path d="M146.0,320.0 C104.0,365.0 104.0,420.0 116.0,484" fill="none" stroke="#d67a62" stroke-width="4.200" opacity="0.24" filter="url(#b1)"/>
<path d="M151.6,320.0 C109.6,365.0 109.6,420.0 121.6,484" fill="none" stroke="#fcd6c8" stroke-width="3.600" opacity="0.32" filter="url(#b1)"/>
<path d="M153.9,320.6 C116.1,365.6 116.1,420.6 127.3,484" fill="none" stroke="#d67a62" stroke-width="4.200" opacity="0.24" filter="url(#b1)"/>
<path d="M159.5,320.6 C121.7,365.6 121.7,420.6 132.9,484" fill="none" stroke="#fcd6c8" stroke-width="3.600" opacity="0.32" filter="url(#b1)"/>
<path d="M161.9,321.1 C128.1,366.1 128.1,421.1 138.6,484" fill="none" stroke="#d67a62" stroke-width="4.200" opacity="0.24" filter="url(#b1)"/>
<path d="M167.5,321.1 C133.7,366.1 133.7,421.1 144.2,484" fill="none" stroke="#fcd6c8" stroke-width="3.600" opacity="0.32" filter="url(#b1)"/>
<path d="M169.8,321.5 C140.2,366.5 140.2,421.5 149.9,484" fill="none" stroke="#d67a62" stroke-width="4.200" opacity="0.24" filter="url(#b1)"/>
<path d="M175.4,321.5 C145.8,366.5 145.8,421.5 155.5,484" fill="none" stroke="#fcd6c8" stroke-width="3.600" opacity="0.32" filter="url(#b1)"/>
<path d="M177.7,321.7 C152.3,366.7 152.3,421.7 161.1,484" fill="none" stroke="#d67a62" stroke-width="4.200" opacity="0.24" filter="url(#b1)"/>
<path d="M183.3,321.7 C157.9,366.7 157.9,421.7 166.7,484" fill="none" stroke="#fcd6c8" stroke-width="3.600" opacity="0.32" filter="url(#b1)"/>
<path d="M185.6,321.8 C164.4,366.8 164.4,421.8 172.4,484" fill="none" stroke="#d67a62" stroke-width="4.200" opacity="0.24" filter="url(#b1)"/>
<path d="M191.2,321.8 C170.0,366.8 170.0,421.8 178.0,484" fill="none" stroke="#fcd6c8" stroke-width="3.600" opacity="0.32" filter="url(#b1)"/>
<path d="M193.6,321.7 C176.4,366.7 176.4,421.7 183.7,484" fill="none" stroke="#d67a62" stroke-width="4.200" opacity="0.24" filter="url(#b1)"/>
<path d="M199.2,321.7 C182.0,366.7 182.0,421.7 189.3,484" fill="none" stroke="#fcd6c8" stroke-width="3.600" opacity="0.32" filter="url(#b1)"/>
<path d="M201.5,321.5 C188.5,366.5 188.5,421.5 195.0,484" fill="none" stroke="#d67a62" stroke-width="4.200" opacity="0.24" filter="url(#b1)"/>
<path d="M207.1,321.5 C194.1,366.5 194.1,421.5 200.6,484" fill="none" stroke="#fcd6c8" stroke-width="3.600" opacity="0.32" filter="url(#b1)"/>
<path d="M209.4,321.1 C200.6,366.1 200.6,421.1 206.3,484" fill="none" stroke="#d67a62" stroke-width="4.200" opacity="0.24" filter="url(#b1)"/>
<path d="M215.0,321.1 C206.2,366.1 206.2,421.1 211.9,484" fill="none" stroke="#fcd6c8" stroke-width="3.600" opacity="0.32" filter="url(#b1)"/>
<path d="M217.4,320.6 C212.6,365.6 212.6,420.6 217.6,484" fill="none" stroke="#d67a62" stroke-width="4.200" opacity="0.24" filter="url(#b1)"/>
<path d="M223.0,320.6 C218.2,365.6 218.2,420.6 223.2,484" fill="none" stroke="#fcd6c8" stroke-width="3.600" opacity="0.32" filter="url(#b1)"/>
<path d="M225.3,320.0 C224.7,365.0 224.7,420.0 228.9,484" fill="none" stroke="#d67a62" stroke-width="4.200" opacity="0.24" filter="url(#b1)"/>
<path d="M230.9,320.0 C230.3,365.0 230.3,420.0 234.5,484" fill="none" stroke="#fcd6c8" stroke-width="3.600" opacity="0.32" filter="url(#b1)"/>
<path d="M233.2,319.2 C236.8,364.2 236.8,419.2 240.1,484" fill="none" stroke="#d67a62" stroke-width="4.200" opacity="0.24" filter="url(#b1)"/>
<path d="M238.8,319.2 C242.4,364.2 242.4,419.2 245.7,484" fill="none" stroke="#fcd6c8" stroke-width="3.600" opacity="0.32" filter="url(#b1)"/>
<path d="M241.1,318.3 C248.9,363.3 248.9,418.3 251.4,484" fill="none" stroke="#d67a62" stroke-width="4.200" opacity="0.24" filter="url(#b1)"/>
<path d="M246.7,318.3 C254.5,363.3 254.5,418.3 257.0,484" fill="none" stroke="#fcd6c8" stroke-width="3.600" opacity="0.32" filter="url(#b1)"/>
<path d="M249.1,317.2 C260.9,362.2 260.9,417.2 262.7,484" fill="none" stroke="#d67a62" stroke-width="4.200" opacity="0.24" filter="url(#b1)"/>
<path d="M254.7,317.2 C266.5,362.2 266.5,417.2 268.3,484" fill="none" stroke="#fcd6c8" stroke-width="3.600" opacity="0.32" filter="url(#b1)"/>
<path d="M257.0,316.0 C273.0,361.0 273.0,416.0 274.0,484" fill="none" stroke="#d67a62" stroke-width="4.200" opacity="0.24" filter="url(#b1)"/>
<path d="M262.6,316.0 C278.6,361.0 278.6,416.0 279.6,484" fill="none" stroke="#fcd6c8" stroke-width="3.600" opacity="0.32" filter="url(#b1)"/>
<path d="M264.9,314.6 C285.1,359.6 285.1,414.6 285.3,484" fill="none" stroke="#d67a62" stroke-width="4.200" opacity="0.24" filter="url(#b1)"/>
<path d="M270.5,314.6 C290.7,359.6 290.7,414.6 290.9,484" fill="none" stroke="#fcd6c8" stroke-width="3.600" opacity="0.32" filter="url(#b1)"/>
<path d="M272.9,313.1 C297.1,358.1 297.1,413.1 296.6,484" fill="none" stroke="#d67a62" stroke-width="4.200" opacity="0.24" filter="url(#b1)"/>
<path d="M278.5,313.1 C302.7,358.1 302.7,413.1 302.2,484" fill="none" stroke="#fcd6c8" stroke-width="3.600" opacity="0.32" filter="url(#b1)"/>
<path d="M280.8,311.5 C309.2,356.5 309.2,411.5 307.9,484" fill="none" stroke="#d67a62" stroke-width="4.200" opacity="0.24" filter="url(#b1)"/>
<path d="M286.4,311.5 C314.8,356.5 314.8,411.5 313.5,484" fill="none" stroke="#fcd6c8" stroke-width="3.600" opacity="0.32" filter="url(#b1)"/>
<path d="M288.7,309.7 C321.3,354.7 321.3,409.7 319.1,484" fill="none" stroke="#d67a62" stroke-width="4.200" opacity="0.24" filter="url(#b1)"/>
<path d="M294.3,309.7 C326.9,354.7 326.9,409.7 324.7,484" fill="none" stroke="#fcd6c8" stroke-width="3.600" opacity="0.32" filter="url(#b1)"/>
<path d="M296.6,307.8 C333.4,352.8 333.4,407.8 330.4,484" fill="none" stroke="#d67a62" stroke-width="4.200" opacity="0.24" filter="url(#b1)"/>
<path d="M302.2,307.8 C339.0,352.8 339.0,407.8 336.0,484" fill="none" stroke="#fcd6c8" stroke-width="3.600" opacity="0.32" filter="url(#b1)"/>
<path d="M304.6,305.7 C345.4,350.7 345.4,405.7 341.7,484" fill="none" stroke="#d67a62" stroke-width="4.200" opacity="0.24" filter="url(#b1)"/>
<path d="M310.2,305.7 C351.0,350.7 351.0,405.7 347.3,484" fill="none" stroke="#fcd6c8" stroke-width="3.600" opacity="0.32" filter="url(#b1)"/>
<path d="M312.5,303.5 C357.5,348.5 357.5,403.5 353.0,484" fill="none" stroke="#d67a62" stroke-width="4.200" opacity="0.24" filter="url(#b1)"/>
<path d="M318.1,303.5 C363.1,348.5 363.1,403.5 358.6,484" fill="none" stroke="#fcd6c8" stroke-width="3.600" opacity="0.32" filter="url(#b1)"/>
<path d="M320.4,301.1 C369.6,346.1 369.6,401.1 364.3,484" fill="none" stroke="#d67a62" stroke-width="4.200" opacity="0.24" filter="url(#b1)"/>
<path d="M326.0,301.1 C375.2,346.1 375.2,401.1 369.9,484" fill="none" stroke="#fcd6c8" stroke-width="3.600" opacity="0.32" filter="url(#b1)"/>
<path d="M328.4,298.6 C381.6,343.6 381.6,398.6 375.6,484" fill="none" stroke="#d67a62" stroke-width="4.200" opacity="0.24" filter="url(#b1)"/>
<path d="M334.0,298.6 C387.2,343.6 387.2,398.6 381.2,484" fill="none" stroke="#fcd6c8" stroke-width="3.600" opacity="0.32" filter="url(#b1)"/>
<path d="M336.3,296.0 C393.7,341.0 393.7,396.0 386.9,484" fill="none" stroke="#d67a62" stroke-width="4.200" opacity="0.24" filter="url(#b1)"/>
<path d="M341.9,296.0 C399.3,341.0 399.3,396.0 392.5,484" fill="none" stroke="#fcd6c8" stroke-width="3.600" opacity="0.32" filter="url(#b1)"/>
<path d="M344.2,293.2 C405.8,338.2 405.8,393.2 398.1,484" fill="none" stroke="#d67a62" stroke-width="4.200" opacity="0.24" filter="url(#b1)"/>
<path d="M349.8,293.2 C411.4,338.2 411.4,393.2 403.7,484" fill="none" stroke="#fcd6c8" stroke-width="3.600" opacity="0.32" filter="url(#b1)"/>
<path d="M352.1,290.3 C417.9,335.3 417.9,390.3 409.4,484" fill="none" stroke="#d67a62" stroke-width="4.200" opacity="0.24" filter="url(#b1)"/>
<path d="M357.7,290.3 C423.5,335.3 423.5,390.3 415.0,484" fill="none" stroke="#fcd6c8" stroke-width="3.600" opacity="0.32" filter="url(#b1)"/>
<path d="M360.1,287.2 C429.9,332.2 429.9,387.2 420.7,484" fill="none" stroke="#d67a62" stroke-width="4.200" opacity="0.24" filter="url(#b1)"/>
<path d="M365.7,287.2 C435.5,332.2 435.5,387.2 426.3,484" fill="none" stroke="#fcd6c8" stroke-width="3.600" opacity="0.32" filter="url(#b1)"/>
<path d="M368.0,284.0 C442.0,329.0 442.0,384.0 432.0,484" fill="none" stroke="#d67a62" stroke-width="4.200" opacity="0.24" filter="url(#b1)"/>
<path d="M373.6,284.0 C447.6,329.0 447.6,384.0 437.6,484" fill="none" stroke="#fcd6c8" stroke-width="3.600" opacity="0.32" filter="url(#b1)"/>
<rect x="105" y="260" width="330" height="225" fill="url(#pinkV)"/>
</g>
<g transform="rotate(-7.600 255 294.600)">
<ellipse cx="255" cy="297" rx="113" ry="28" fill="#eeb3a0"/>
<ellipse cx="255" cy="295.500" rx="112" ry="25.500" fill="url(#footRing)"/>
</g>
<path d="M21,386 L26,371 L30.500,386 Z" fill="#3a3a3c"/>
<path d="M88,424 L103,424 L102,440 C100,448 94,451 90,447 Z" fill="#b07a44"/>
<line x1="37" y1="453" x2="120" y2="453" stroke="#0d0d0d" stroke-width="5" stroke-linecap="round"/>
<line x1="37" y1="465.2" x2="122" y2="465.2" stroke="#0d0d0d" stroke-width="5" stroke-linecap="round"/>
<line x1="0" y1="520" x2="116" y2="520" stroke="#0d0d0d" stroke-width="5" stroke-linecap="round"/>
<line x1="0" y1="533.5" x2="116" y2="533.5" stroke="#0d0d0d" stroke-width="5" stroke-linecap="round"/>
<line x1="0" y1="555" x2="138.5" y2="555" stroke="#0d0d0d" stroke-width="5" stroke-linecap="round"/>
<line x1="0" y1="570.8" x2="452" y2="570.8" stroke="#0d0d0d" stroke-width="5.5" stroke-linecap="round"/>
<line x1="61" y1="457" x2="34" y2="554" stroke="#1a1a1a" stroke-width="3.6" stroke-linecap="round"/>
<line x1="61" y1="457" x2="34" y2="554" stroke="#6a6a6a" stroke-width="1" stroke-linecap="butt"/>
<line x1="97" y1="453.3" x2="73.6" y2="550.3" stroke="#1a1a1a" stroke-width="3.6" stroke-linecap="round"/>
<line x1="97" y1="453.3" x2="73.6" y2="550.3" stroke="#6a6a6a" stroke-width="1" stroke-linecap="butt"/>
<line x1="18" y1="530.5" x2="12.6" y2="557.5" stroke="#1a1a1a" stroke-width="3.6" stroke-linecap="round"/>
<line x1="50.3" y1="426.4" x2="44.9" y2="444.4" stroke="#8a8a8a" stroke-width="3" stroke-linecap="round"/>
<path d="M8,424 C14,450 20,480 18,514" fill="none" stroke="#3c3c3e" stroke-width="5" opacity="0.9"/>
<line x1="10.3" y1="423" x2="10.3" y2="561" stroke="#0d0d0d" stroke-width="4" stroke-linecap="round"/>
<line x1="70.2" y1="423" x2="70.2" y2="561" stroke="#0d0d0d" stroke-width="4" stroke-linecap="round"/>
<line x1="130.1" y1="423" x2="130.1" y2="561" stroke="#0d0d0d" stroke-width="4" stroke-linecap="round"/>
<line x1="25.3" y1="423" x2="25.3" y2="578.5" stroke="#0d0d0d" stroke-width="4.2" stroke-linecap="round"/>
<line x1="108.2" y1="423" x2="108.2" y2="578.5" stroke="#0d0d0d" stroke-width="4.2" stroke-linecap="round"/>
<line x1="190" y1="423" x2="190" y2="578.5" stroke="#0d0d0d" stroke-width="4.2" stroke-linecap="round"/>
<line x1="273" y1="423" x2="273" y2="578.5" stroke="#0d0d0d" stroke-width="4.2" stroke-linecap="round"/>
<line x1="355.9" y1="423" x2="355.9" y2="578.5" stroke="#0d0d0d" stroke-width="4.2" stroke-linecap="round"/>
<line x1="438.5" y1="423" x2="438.5" y2="578.5" stroke="#0d0d0d" stroke-width="4.2" stroke-linecap="round"/>
<line x1="107.6" y1="423" x2="107.6" y2="578" stroke="#0d0d0d" stroke-width="0.1" stroke-linecap="round"/>
<path d="M0,387.500 L494,391 Q505,391.200 505,402 L505,413 Q505,424.700 493,424.700 L0,421.500 Z" fill="url(#barG)"/>
<path d="M0,388.200 L494,391.700" stroke="#2a2a2c" stroke-width="1.600" fill="none" opacity="0.9"/>
<path d="M477,390.800 L496,391 L496,424.700 L477,424.600 Z" fill="#0d0d0d"/>
<path d="M470,390.800 L477,390.800 L477,424.600 L470,424.500 Z" fill="#1e1e1f"/>
<path d="M500.200,380 L500.200,408 Q500.200,422 486,426" fill="none" stroke="#0b0b0b" stroke-width="9.600" stroke-linecap="round"/>
<circle cx="33.700" cy="407" r="10.500" fill="#1c1c1c"/><circle cx="33.700" cy="407" r="8.300" fill="#e6e6e6"/><circle cx="33.700" cy="407" r="5" fill="#9a9a9a"/><circle cx="32.500" cy="408" r="2.600" fill="#222"/><path d="M27,402 a8 8 0 0 1 9,-3" stroke="#fff" stroke-width="2" fill="none"/>
<line x1="478.3" y1="250.5" x2="492.4" y2="385.3" stroke="#1a1a1a" stroke-width="3.4" stroke-linecap="butt"/>
<line x1="478.3" y1="250.5" x2="492.4" y2="385.3" stroke="#d8d8d8" stroke-width="1.3" stroke-linecap="butt"/>
<path d="M486.800,299 L486.800,205 Q486.800,192.500 499,192.500 L551,192.500 Q558,192.500 562,199" fill="none" stroke="#0b0b0b" stroke-width="7.200" stroke-linecap="round"/>
<path d="M498,190.500 L552,190.500" fill="none" stroke="#3c3c3c" stroke-width="1.200"/>
<line x1="568" y1="212" x2="582.3" y2="272" stroke="#8a8a8a" stroke-width="5.5" stroke-linecap="butt"/>
<line x1="567" y1="212" x2="581.3" y2="272" stroke="#e0e0e0" stroke-width="2" stroke-linecap="butt"/>
<path d="M590,282 Q593,294.500 582,294.500 L512,294.500 Q500,294.500 500,307 L500,400" fill="none" stroke="#0b0b0b" stroke-width="7.200" stroke-linecap="round"/>
<path d="M514,292.400 L584,292.400" fill="none" stroke="#3c3c3c" stroke-width="1.200"/>
<ellipse cx="568" cy="210.300" rx="13" ry="14.500" fill="url(#ballG)" transform="rotate(-15 568 210.300)"/>
<ellipse cx="582.300" cy="274" rx="13" ry="14.500" fill="url(#ballG)" transform="rotate(-15 582.300 274)"/>
<ellipse cx="459.600" cy="325.400" rx="9" ry="11" fill="#0c0c0c"/>
<circle cx="462" cy="323" r="1.600" fill="#777"/>
<line x1="462" y1="330" x2="468" y2="388" stroke="#111" stroke-width="3.5" stroke-linecap="round"/>
<line x1="464" y1="330" x2="470" y2="388" stroke="#999" stroke-width="1" stroke-linecap="butt"/>
<rect x="471" y="305" width="7" height="85" fill="#0d0d0d"/>
<rect x="476.500" y="364" width="6" height="26" fill="#111"/>
<line x1="484.6" y1="424" x2="484.6" y2="580" stroke="#0d0d0d" stroke-width="5" stroke-linecap="round"/>
<rect x="442.500" y="443.600" width="34" height="24.500" rx="3" fill="#0c0c0c"/>
<path d="M476,466 L476,523 Q476,535.400 464,535.400 L440,535.400" fill="none" stroke="#0b0b0b" stroke-width="5" stroke-linecap="round"/>
<path d="M440,570.800 L448,570.800 Q456,571 458,580" fill="none" stroke="#0b0b0b" stroke-width="5.500"/>
<circle cx="474" cy="447.400" r="10" fill="#0c0c0c"/><circle cx="474" cy="447.400" r="4.500" fill="#3a3a3a"/>
<path d="M463,438 Q463,428 476,426" fill="none" stroke="#0b0b0b" stroke-width="5"/>
<line x1="487" y1="450" x2="496" y2="440" stroke="#111" stroke-width="7" stroke-linecap="round"/>
<path d="M449,578.500 H493 Q495.500,578.500 495.500,581 V591 H497.700 V603 Q497.700,607.500 492,607.500 H450 Q444.300,607.500 444.300,603 V591 H446.500 V581 Q446.500,578.500 449,578.500 Z" fill="#0d0d0d"/>
<rect x="446.500" y="589.500" width="49" height="1.500" fill="#2c2c2c"/>
</g>
<!-- bottomrack -->
<g filter="url(#softAll)">
<g>
<path d="M906,926.500 L779,926.500 Q764,926.500 758,940 L720.500,1046 Q714,1064 729,1068.500 Q735,1070 744,1070 L864,1070" fill="none" stroke="#d2d2d2" stroke-width="5" stroke-linejoin="round"/>
<path d="M906,926.500 L779,926.500 Q764,926.500 758,940 L720.500,1046 Q714,1064 729,1068.500 Q735,1070 744,1070 L864,1070" fill="none" stroke="#f7f7f7" stroke-width="2.200" stroke-linejoin="round"/>
<rect x="895" y="1088.600" width="45" height="26" rx="5" fill="#141414"/>
<path d="M906,1062 L906,1094 Q906,1104 916,1104 L930,1104" fill="none" stroke="#404040" stroke-width="4.2" stroke-linecap="round" stroke-linejoin="round"/>
<path d="M906,1062 L906,1094 Q906,1104 916,1104 L930,1104" fill="none" stroke="#a8a8a8" stroke-width="1.34" stroke-linecap="round" stroke-linejoin="round"/>
<path d="M900,1062 L900,1097 Q900,1108.300 912,1108.300 L1445,1108.300" fill="none" stroke="#404040" stroke-width="6.2" stroke-linecap="round" stroke-linejoin="round"/>
<path d="M900,1062 L900,1097 Q900,1108.300 912,1108.300 L1445,1108.300" fill="none" stroke="#a8a8a8" stroke-width="1.98" stroke-linecap="round" stroke-linejoin="round"/>
<path d="M891,1076 L891,1163 Q891,1175.700 903,1175.700 L1445,1175.700" fill="none" stroke="#404040" stroke-width="6.4" stroke-linecap="round" stroke-linejoin="round"/>
<path d="M891,1076 L891,1163 Q891,1175.700 903,1175.700 L1445,1175.700" fill="none" stroke="#a8a8a8" stroke-width="2.05" stroke-linecap="round" stroke-linejoin="round"/>
<path d="M909,1224 Q909,1210.500 920,1210.500 L1445,1210.500" fill="none" stroke="#404040" stroke-width="7" stroke-linecap="round" stroke-linejoin="round"/>
<path d="M909,1224 Q909,1210.500 920,1210.500 L1445,1210.500" fill="none" stroke="#a8a8a8" stroke-width="2.24" stroke-linecap="round" stroke-linejoin="round"/>
<path d="M939,1079.500 L1445,1079.500" fill="none" stroke="#404040" stroke-width="4.6" stroke-linecap="round" stroke-linejoin="round"/>
<path d="M939,1079.500 L1445,1079.500" fill="none" stroke="#a8a8a8" stroke-width="1.47" stroke-linecap="round" stroke-linejoin="round"/>
<path d="M926.4,1076 L926.4,1218" fill="none" stroke="#404040" stroke-width="6" stroke-linecap="round" stroke-linejoin="round"/>
<path d="M926.4,1076 L926.4,1218" fill="none" stroke="#a8a8a8" stroke-width="1.92" stroke-linecap="round" stroke-linejoin="round"/>
<path d="M1008.2,1076 L1008.2,1218" fill="none" stroke="#404040" stroke-width="6" stroke-linecap="round" stroke-linejoin="round"/>
<path d="M1008.2,1076 L1008.2,1218" fill="none" stroke="#a8a8a8" stroke-width="1.92" stroke-linecap="round" stroke-linejoin="round"/>
<path d="M1091,1076 L1091,1218" fill="none" stroke="#404040" stroke-width="6" stroke-linecap="round" stroke-linejoin="round"/>
<path d="M1091,1076 L1091,1218" fill="none" stroke="#a8a8a8" stroke-width="1.92" stroke-linecap="round" stroke-linejoin="round"/>
<path d="M1171.9,1076 L1171.9,1218" fill="none" stroke="#404040" stroke-width="6" stroke-linecap="round" stroke-linejoin="round"/>
<path d="M1171.9,1076 L1171.9,1218" fill="none" stroke="#a8a8a8" stroke-width="1.92" stroke-linecap="round" stroke-linejoin="round"/>
<path d="M1218.7,1076 L1218.7,1218" fill="none" stroke="#404040" stroke-width="6" stroke-linecap="round" stroke-linejoin="round"/>
<path d="M1218.7,1076 L1218.7,1218" fill="none" stroke="#a8a8a8" stroke-width="1.92" stroke-linecap="round" stroke-linejoin="round"/>
<path d="M1278.7,1076 L1278.7,1218" fill="none" stroke="#404040" stroke-width="6" stroke-linecap="round" stroke-linejoin="round"/>
<path d="M1278.7,1076 L1278.7,1218" fill="none" stroke="#a8a8a8" stroke-width="1.92" stroke-linecap="round" stroke-linejoin="round"/>
<path d="M1338.8,1076 L1338.8,1218" fill="none" stroke="#404040" stroke-width="6" stroke-linecap="round" stroke-linejoin="round"/>
<path d="M1338.8,1076 L1338.8,1218" fill="none" stroke="#a8a8a8" stroke-width="1.92" stroke-linecap="round" stroke-linejoin="round"/>
<path d="M1397.3,1076 L1397.3,1218" fill="none" stroke="#404040" stroke-width="6" stroke-linecap="round" stroke-linejoin="round"/>
<path d="M1397.3,1076 L1397.3,1218" fill="none" stroke="#a8a8a8" stroke-width="1.92" stroke-linecap="round" stroke-linejoin="round"/>
<path d="M926.400,1089 Q926.400,1079.500 937,1079.500" fill="none" stroke="#404040" stroke-width="4.6" stroke-linecap="round" stroke-linejoin="round"/>
<path d="M926.400,1089 Q926.400,1079.500 937,1079.500" fill="none" stroke="#a8a8a8" stroke-width="1.47" stroke-linecap="round" stroke-linejoin="round"/>
<path d="M946.2,1076 L931.8,1212.7" fill="none" stroke="#404040" stroke-width="4.6" stroke-linecap="round" stroke-linejoin="round"/>
<path d="M946.2,1076 L931.8,1212.7" fill="none" stroke="#a8a8a8" stroke-width="1.47" stroke-linecap="round" stroke-linejoin="round"/>
<path d="M1018,1076 L1011,1212.7" fill="none" stroke="#404040" stroke-width="4.6" stroke-linecap="round" stroke-linejoin="round"/>
<path d="M1018,1076 L1011,1212.7" fill="none" stroke="#a8a8a8" stroke-width="1.47" stroke-linecap="round" stroke-linejoin="round"/>
<path d="M1164.8,1076 L1172.5,1212" fill="none" stroke="#404040" stroke-width="4.6" stroke-linecap="round" stroke-linejoin="round"/>
<path d="M1164.8,1076 L1172.5,1212" fill="none" stroke="#a8a8a8" stroke-width="1.47" stroke-linecap="round" stroke-linejoin="round"/>
<path d="M1204.8,1076 L1218.7,1212" fill="none" stroke="#404040" stroke-width="4.6" stroke-linecap="round" stroke-linejoin="round"/>
<path d="M1204.8,1076 L1218.7,1212" fill="none" stroke="#a8a8a8" stroke-width="1.47" stroke-linecap="round" stroke-linejoin="round"/>
<path d="M1258.7,1076 L1278.7,1210" fill="none" stroke="#404040" stroke-width="4.6" stroke-linecap="round" stroke-linejoin="round"/>
<path d="M1258.7,1076 L1278.7,1210" fill="none" stroke="#a8a8a8" stroke-width="1.47" stroke-linecap="round" stroke-linejoin="round"/>
<path d="M1307.4,1074 L1315.2,1104 L1332.3,1028 L1342.6,1072" fill="none" stroke="#404040" stroke-width="5" stroke-linecap="round" stroke-linejoin="round"/>
<path d="M1307.4,1074 L1315.2,1104 L1332.3,1028 L1342.6,1072" fill="none" stroke="#a8a8a8" stroke-width="1.60" stroke-linecap="round" stroke-linejoin="round"/>
<path d="M1340.0,1082 L1326.3,1161 L1336.6,1214" fill="none" stroke="#404040" stroke-width="5" stroke-linecap="round" stroke-linejoin="round"/>
<path d="M1340.0,1082 L1326.3,1161 L1336.6,1214" fill="none" stroke="#a8a8a8" stroke-width="1.60" stroke-linecap="round" stroke-linejoin="round"/>
<path d="M1361.3,1074 L1369.1,1104 L1386.2,1028 L1396.5,1072" fill="none" stroke="#404040" stroke-width="5" stroke-linecap="round" stroke-linejoin="round"/>
<path d="M1361.3,1074 L1369.1,1104 L1386.2,1028 L1396.5,1072" fill="none" stroke="#a8a8a8" stroke-width="1.60" stroke-linecap="round" stroke-linejoin="round"/>
<path d="M1393.9,1082 L1380.2,1161 L1390.5,1214" fill="none" stroke="#404040" stroke-width="5" stroke-linecap="round" stroke-linejoin="round"/>
<path d="M1393.9,1082 L1380.2,1161 L1390.5,1214" fill="none" stroke="#a8a8a8" stroke-width="1.60" stroke-linecap="round" stroke-linejoin="round"/>
<path d="M1415.2,1074 L1423.0,1104 L1440.1,1028 L1450.4,1072" fill="none" stroke="#404040" stroke-width="5" stroke-linecap="round" stroke-linejoin="round"/>
<path d="M1415.2,1074 L1423.0,1104 L1440.1,1028 L1450.4,1072" fill="none" stroke="#a8a8a8" stroke-width="1.60" stroke-linecap="round" stroke-linejoin="round"/>
<path d="M1447.8,1082 L1434.1,1161 L1444.4,1214" fill="none" stroke="#404040" stroke-width="5" stroke-linecap="round" stroke-linejoin="round"/>
<path d="M1447.8,1082 L1434.1,1161 L1444.4,1214" fill="none" stroke="#a8a8a8" stroke-width="1.60" stroke-linecap="round" stroke-linejoin="round"/>
<path d="M948.5,930 L948.5,1062.5" fill="none" stroke="#454545" stroke-width="4.6" stroke-linecap="round" stroke-linejoin="round"/>
<path d="M948.5,930 L948.5,1062.5" fill="none" stroke="#a8a8a8" stroke-width="1.47" stroke-linecap="round" stroke-linejoin="round"/>
<path d="M1020,930 L1020,1062.5" fill="none" stroke="#454545" stroke-width="4.6" stroke-linecap="round" stroke-linejoin="round"/>
<path d="M1020,930 L1020,1062.5" fill="none" stroke="#a8a8a8" stroke-width="1.47" stroke-linecap="round" stroke-linejoin="round"/>
<path d="M1091.5,930 L1091.5,1062.5" fill="none" stroke="#454545" stroke-width="4.6" stroke-linecap="round" stroke-linejoin="round"/>
<path d="M1091.5,930 L1091.5,1062.5" fill="none" stroke="#a8a8a8" stroke-width="1.47" stroke-linecap="round" stroke-linejoin="round"/>
<path d="M1163.2,930 L1163.2,1062.5" fill="none" stroke="#454545" stroke-width="4.6" stroke-linecap="round" stroke-linejoin="round"/>
<path d="M1163.2,930 L1163.2,1062.5" fill="none" stroke="#a8a8a8" stroke-width="1.47" stroke-linecap="round" stroke-linejoin="round"/>
<path d="M1204.8,930 L1204.8,1062.5" fill="none" stroke="#454545" stroke-width="4.6" stroke-linecap="round" stroke-linejoin="round"/>
<path d="M1204.8,930 L1204.8,1062.5" fill="none" stroke="#a8a8a8" stroke-width="1.47" stroke-linecap="round" stroke-linejoin="round"/>
<path d="M1256.5,930 L1256.5,1062.5" fill="none" stroke="#454545" stroke-width="4.6" stroke-linecap="round" stroke-linejoin="round"/>
<path d="M1256.5,930 L1256.5,1062.5" fill="none" stroke="#a8a8a8" stroke-width="1.47" stroke-linecap="round" stroke-linejoin="round"/>
<path d="M1308,930 L1308,1062.5" fill="none" stroke="#454545" stroke-width="4.6" stroke-linecap="round" stroke-linejoin="round"/>
<path d="M1308,930 L1308,1062.5" fill="none" stroke="#a8a8a8" stroke-width="1.47" stroke-linecap="round" stroke-linejoin="round"/>
<path d="M1359.7,930 L1359.7,1062.5" fill="none" stroke="#454545" stroke-width="4.6" stroke-linecap="round" stroke-linejoin="round"/>
<path d="M1359.7,930 L1359.7,1062.5" fill="none" stroke="#a8a8a8" stroke-width="1.47" stroke-linecap="round" stroke-linejoin="round"/>
<path d="M1411,930 L1411,1062.5" fill="none" stroke="#454545" stroke-width="4.6" stroke-linecap="round" stroke-linejoin="round"/>
<path d="M1411,930 L1411,1062.5" fill="none" stroke="#a8a8a8" stroke-width="1.47" stroke-linecap="round" stroke-linejoin="round"/>
<path d="M889,936 Q894,927 915,926.500 L1445,926.500" fill="none" stroke="#2c2c2c" stroke-width="2.600"/>
<path d="M906,936 Q910,929.500 930,929.500 L1445,929.500" fill="none" stroke="#8e8e8e" stroke-width="3"/>
<rect x="997" y="924.300" width="32" height="3.400" fill="#111"/>
<path d="M882.7,1071 L882.7,1224" fill="none" stroke="#4c4c4c" stroke-width="7.5" stroke-linecap="round" stroke-linejoin="round"/>
<path d="M882.7,1071 L882.7,1224" fill="none" stroke="#bdbdbd" stroke-width="2.60" stroke-linecap="round" stroke-linejoin="round"/>
<path d="M889,935 L863.500,1058" fill="none" stroke="#1c1c1c" stroke-width="6.500" stroke-linecap="round"/>
<path d="M886.500,940 L862,1056" fill="none" stroke="#9a9a9a" stroke-width="1.600"/>
<path d="M906,935 L882.500,1056" fill="none" stroke="#222" stroke-width="6.500" stroke-linecap="round"/>
<path d="M908,940 L884.500,1054" fill="none" stroke="#b8b8b8" stroke-width="1.800"/>
<path d="M913,942.500 L902.500,1017 L905,1066" fill="none" stroke="#3a3a3a" stroke-width="4.200" stroke-linejoin="round" stroke-linecap="round"/>
<path d="M900,1010 L897,1062" fill="none" stroke="#4a4a4a" stroke-width="4"/>
<path d="M861.500,1054 Q861,1069.500 880,1069.700 L1445,1069.700" fill="none" stroke="#3a3a3a" stroke-width="6.4" stroke-linecap="round" stroke-linejoin="round"/>
<path d="M861.500,1054 Q861,1069.500 880,1069.700 L1445,1069.700" fill="none" stroke="#d4d4d4" stroke-width="3.00" stroke-linecap="round" stroke-linejoin="round"/>
<path d="M925,1067 L1445,1067" stroke="#1e1e1e" stroke-width="2" fill="none"/>
<path d="M881.500,1054 Q882,1066 900,1068.500" fill="none" stroke="#3a3a3a" stroke-width="5" stroke-linecap="round" stroke-linejoin="round"/>
<path d="M881.500,1054 Q882,1066 900,1068.500" fill="none" stroke="#c8c8c8" stroke-width="1.60" stroke-linecap="round" stroke-linejoin="round"/>
<path d="M876,1222.600 H917.500 Q920,1222.600 920,1225 V1234 Q923.700,1236 923.700,1240 V1247 Q923.700,1252.300 918,1252.300 H876.500 Q870.600,1252.300 870.600,1247 V1240 Q870.600,1236 873.300,1234 V1225 Q873.300,1222.600 876,1222.600 Z" fill="#141414"/>
<rect x="873.300" y="1233.500" width="46.700" height="1.600" fill="#2e2e2e"/>
</g>
</g>
<!-- arrows -->
<g>
<path d="M522 352.8 H716 V332 L765 364 H522 Z" fill="url(#arrR)"/>
<path d="M754 380.6 H513.5 L564.4 413.4 V392.7 H754 Z" fill="url(#arrL)"/>
<path d="M673 995.5 H862.3 V974.3 L911.3 1006.7 H673 Z" fill="url(#arrR)"/>
<path d="M889 1023.4 H660.6 L711.6 1056.5 V1034 H889 Z" fill="url(#arrL)"/>
</g>

<!-- text -->
<g>
<rect x="972" y="253.5" width="266" height="68" rx="34" fill="url(#pillBlue)"/>
<text x="1030.8" y="312.3" font-size="67" fill="#fff" stroke="#fff" stroke-width="3" textLength="149" lengthAdjust="spacingAndGlyphs">Ours</text>
<text x="790.70" y="382" font-size="47.5" fill="#161616" stroke="#161616" stroke-width="1" textLength="196.80" lengthAdjust="spacingAndGlyphs">Increase</text>
<text x="1004.90" y="382" font-size="47.5" fill="#161616" stroke="#161616" stroke-width="1" textLength="178.70" lengthAdjust="spacingAndGlyphs">Storage</text>
<text x="1201.20" y="382" font-size="47.5" fill="#161616" stroke="#161616" stroke-width="1" textLength="208.90" lengthAdjust="spacingAndGlyphs">Capacity</text>
<text x="794.40" y="439" font-size="31" fill="#222" letter-spacing="2" textLength="104.30" lengthAdjust="spacingAndGlyphs">NOTE:</text>
<text x="903.00" y="439" font-size="31" fill="#222" letter-spacing="2" textLength="112.60" lengthAdjust="spacingAndGlyphs">ensure</text>
<text x="1022.30" y="439" font-size="31" fill="#222" letter-spacing="2" textLength="75.60" lengthAdjust="spacingAndGlyphs">your</text>
<text x="1103.70" y="439" font-size="31" fill="#222" letter-spacing="2" textLength="65.30" lengthAdjust="spacingAndGlyphs">sink</text>
<text x="1178.00" y="439" font-size="31" fill="#222" letter-spacing="2" textLength="66.90" lengthAdjust="spacingAndGlyphs">falls</text>
<text x="1255.50" y="439" font-size="31" fill="#222" letter-spacing="2" textLength="99.00" lengthAdjust="spacingAndGlyphs">within</text>
<text x="1361.50" y="439" font-size="31" fill="#222" letter-spacing="2" textLength="61.20" lengthAdjust="spacingAndGlyphs">this</text>
<text x="912.20" y="484" font-size="31" fill="#222" letter-spacing="2" textLength="106.60" lengthAdjust="spacingAndGlyphs">length</text>
<text x="1027.60" y="484" font-size="31" fill="#222" letter-spacing="2" textLength="94.40" lengthAdjust="spacingAndGlyphs">range</text>
<text x="1128.40" y="484" font-size="31" fill="#222" letter-spacing="2">(</text>
<text x="1141.10" y="484" font-size="31" fill="#3a7db0" letter-spacing="2" textLength="148.90" lengthAdjust="spacingAndGlyphs">14&quot;-17.5&quot;</text>
<text x="1290.40" y="484" font-size="31" fill="#222" letter-spacing="2">)</text>
<rect x="209.5" y="926.5" width="265" height="68" rx="34" fill="#3a3a3a"/>
<text x="229.8" y="985" font-size="67" fill="#fff" stroke="#fff" stroke-width="3" textLength="208.5" lengthAdjust="spacingAndGlyphs">Others</text>
<text x="59.00" y="1062.3" font-size="47.5" fill="#161616" stroke="#161616" stroke-width="1" textLength="112.30" lengthAdjust="spacingAndGlyphs">Only</text>
<text x="189.80" y="1062.3" font-size="47.5" fill="#161616" stroke="#161616" stroke-width="1" textLength="259.30" lengthAdjust="spacingAndGlyphs">Adjustable</text>
<text x="463.90" y="1062.3" font-size="47.5" fill="#161616" stroke="#161616" stroke-width="1" textLength="163.40" lengthAdjust="spacingAndGlyphs">Handle</text>
<text x="147.50" y="1115" font-size="30" fill="#222" letter-spacing="2" textLength="50.20" lengthAdjust="spacingAndGlyphs">No</text>
<text x="205.50" y="1115" font-size="30" fill="#222" letter-spacing="2" textLength="79.90" lengthAdjust="spacingAndGlyphs">Extra</text>
<text x="293.10" y="1115" font-size="30" fill="#222" letter-spacing="2" textLength="123.70" lengthAdjust="spacingAndGlyphs">Storage</text>
<text x="427.60" y="1115" font-size="30" fill="#222" letter-spacing="2" textLength="112.70" lengthAdjust="spacingAndGlyphs">Added</text>
</g>
</svg>
</body></html>
